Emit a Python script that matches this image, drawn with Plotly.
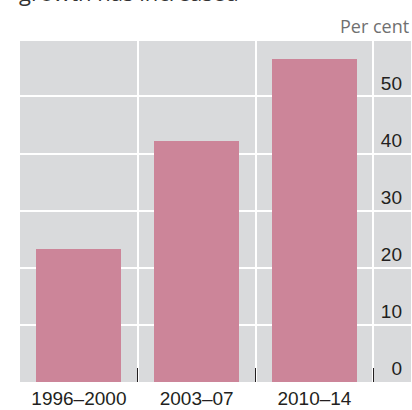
import plotly.graph_objects as go

# Share of growth by period (per cent)
periods = ["1996–2000", "2003–07", "2010–14"]
shares = [23.2, 42.2, 56.5]
y_ticks = [0, 10, 20, 30, 40, 50]

BAR = "#cc8599"
PANEL = "#d9dadc"
INK = "#231f20"

x_pos = list(range(len(periods)))

fig = go.Figure(
    go.Bar(
        x=x_pos,
        y=shares,
        width=0.72,
        marker=dict(color=BAR, line=dict(width=0)),
        hoverinfo="skip",
    )
)

fig.update_layout(
    width=412,
    height=410,
    margin=dict(l=20, r=1, t=41, b=26),
    paper_bgcolor="white",
    plot_bgcolor=PANEL,
    showlegend=False,
    bargap=0,
    xaxis=dict(
        range=[-0.5, 2.82],
        tickmode="array",
        tickvals=x_pos,
        ticktext=periods,
        ticks="",
        ticklabelstandoff=3,
        showgrid=False,
        zeroline=False,
        showline=False,
        tickfont=dict(family="Liberation Sans, Arial, sans-serif", size=19, color=INK),
        minor=dict(
            tickmode="array",
            tickvals=[v + 0.5 for v in x_pos],
            ticks="inside",
            ticklen=14,
            tickwidth=1,
            tickcolor=INK,
            showgrid=True,
            gridcolor="white",
            gridwidth=2,
        ),
        fixedrange=True,
    ),
    yaxis=dict(
        range=[0, 59.7],
        side="right",
        tickmode="array",
        tickvals=y_ticks,
        ticks="",
        ticklabelposition="inside top",
        ticklabelstandoff=6,
        showgrid=True,
        gridcolor="white",
        gridwidth=2,
        zeroline=False,
        showline=False,
        tickfont=dict(family="Liberation Sans, Arial, sans-serif", size=19, color=INK),
        fixedrange=True,
    ),
    annotations=[
        dict(
            text="Per cent",
            xref="paper",
            yref="paper",
            x=1.0,
            y=1.0,
            xanchor="right",
            yanchor="bottom",
            yshift=1,
            showarrow=False,
            font=dict(family="Open Sans, sans-serif", size=18, color="#707070"),
        ),
        dict(
            text="growth has increased",
            xref="paper",
            yref="paper",
            x=0.0,
            y=1.0,
            xanchor="left",
            yanchor="bottom",
            xshift=-3,
            yshift=32,
            showarrow=False,
            font=dict(family="Open Sans, sans-serif", size=22, color="#333333"),
        ),
    ],
)

fig.write_html("out.html")
